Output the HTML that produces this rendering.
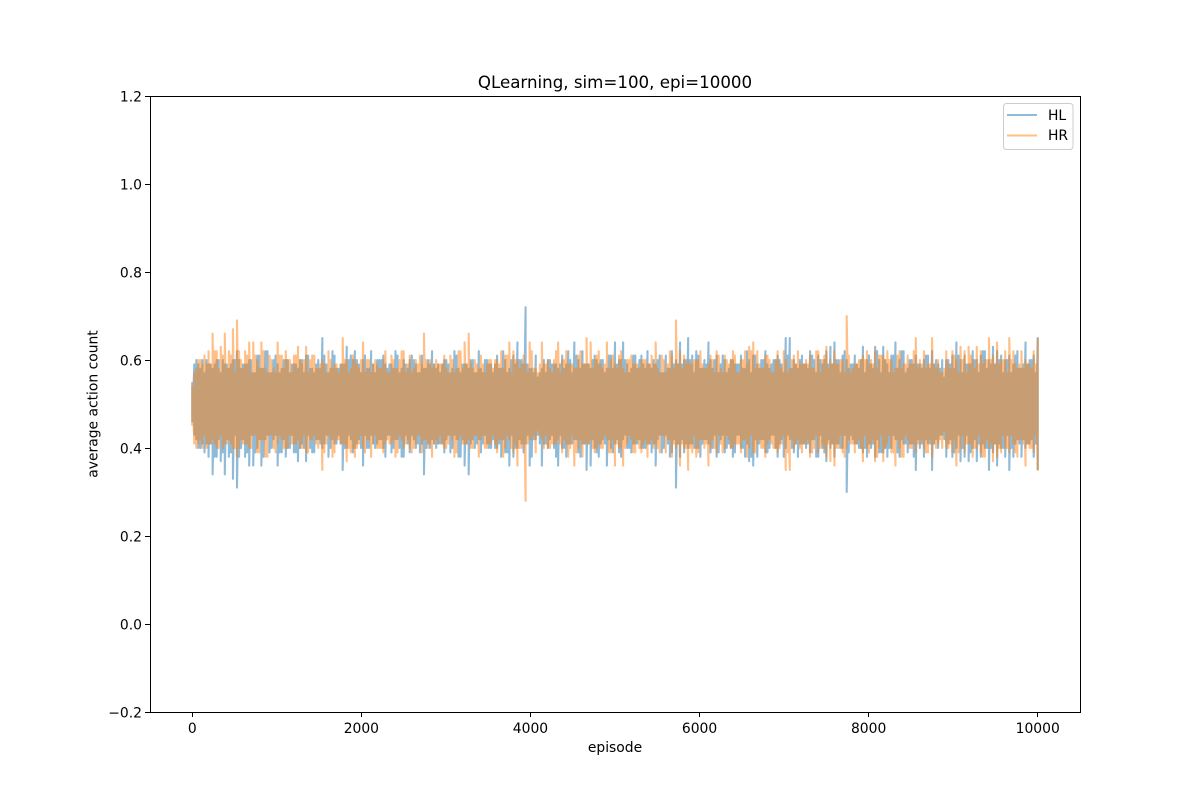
<!DOCTYPE html>
<html>
<head>
<meta charset="utf-8">
<title>QLearning, sim=100, epi=10000</title>
<style>
html,body{margin:0;padding:0;background:#fff;width:1200px;height:800px;overflow:hidden}
svg{display:block}
text{font-family:"DejaVu Sans",sans-serif;fill:#000;font-size:13.89px}
</style>
</head>
<body>
<svg id="chart" width="1200" height="800" viewBox="0 0 1200 800" xmlns="http://www.w3.org/2000/svg">
  <rect x="150" y="96" width="930" height="616" fill="#fff"/>
  <g id="series"></g>
  <g id="ticks"></g>
  <rect x="150.5" y="96.5" width="930" height="616" fill="none" stroke="#000" stroke-width="1"/>
  <text x="615" y="88" text-anchor="middle" style="font-size:16.67px">QLearning, sim=100, epi=10000</text>
  <text x="615" y="752" text-anchor="middle">episode</text>
  <text transform="translate(97.5,404) rotate(-90)" text-anchor="middle">average action count</text>
  <g>
    <rect x="1003.5" y="103.5" width="69.5" height="46" rx="3" ry="3" fill="#fff" fill-opacity="0.8" stroke="#ccc" stroke-width="1"/>
    <line x1="1007" y1="115" x2="1037" y2="115" stroke="#1f77b4" stroke-opacity="0.5" stroke-width="2.08"/>
    <text x="1048" y="120">HL</text>
    <line x1="1007" y1="135.5" x2="1037" y2="135.5" stroke="#ff7f0e" stroke-opacity="0.5" stroke-width="2.08"/>
    <text x="1048" y="140">HR</text>
  </g>
</svg>
<script>
const xTickValues = [0, 2000, 4000, 6000, 8000, 10000];
const yTickValues = [-0.2, 0.0, 0.2, 0.4, 0.6, 0.8, 1.0, 1.2];
const yTickLabels = ["\u22120.2", "0.0", "0.2", "0.4", "0.6", "0.8", "1.0", "1.2"];
const lastEpisode = 10000;
const HLPeaks = [
.55,.46,.60,.42,.58,.40,.57,.39,.59,.38,.58,.34,.60,.38,.57,.37,.59,.34,.58,.38,
.60,.33,.62,.31,.58,.40,.59,.38,.60,.36,.57,.36,.61,.40,.58,.36,.62,.42,.57,.39,
.60,.42,.59,.36,.58,.39,.60,.38,.57,.40,.59,.39,.58,.37,.60,.41,.61,.37,.58,.40,
.57,.39,.60,.42,.65,.40,.59,.43,.58,.40,.61,.41,.58,.43,.59,.35,.63,.40,.61,.42,
.62,.40,.59,.42,.60,.36,.58,.40,.62,.43,.57,.40,.60,.42,.61,.40,.58,.43,.59,.39,
.62,.42,.57,.40,.60,.38,.58,.41,.61,.43,.59,.40,.57,.39,.58,.34,.60,.41,.62,.42,
.58,.40,.57,.41,.60,.39,.59,.43,.58,.40,.61,.42,.57,.38,.59,.36,.58,.34,.60,.42,
.57,.41,.58,.39,.60,.43,.59,.40,.57,.42,.61,.40,.58,.38,.60,.39,.58,.36,.61,.38,
.64,.40,.60,.41,.72,.41,.58,.36,.57,.42,.56,.43,.58,.36,.57,.41,.60,.42,.59,.40,
.58,.36,.61,.40,.59,.38,.60,.41,.64,.42,.60,.39,.62,.41,.59,.35,.58,.36,.61,.40,
.59,.38,.60,.42,.58,.36,.61,.40,.64,.41,.60,.39,.64,.42,.59,.40,.58,.39,.61,.41,
.60,.42,.59,.40,.62,.41,.58,.39,.59,.36,.61,.43,.57,.40,.58,.41,.62,.39,.60,.31,
.64,.38,.60,.39,.65,.40,.61,.41,.62,.40,.58,.38,.60,.42,.64,.41,.58,.40,.61,.38,
.59,.42,.60,.39,.58,.41,.60,.38,.59,.43,.61,.40,.58,.38,.60,.37,.61,.36,.59,.38,
.60,.42,.62,.39,.58,.40,.60,.43,.61,.38,.59,.42,.65,.40,.65,.42,.60,.39,.58,.38,
.61,.41,.59,.40,.62,.39,.60,.42,.61,.38,.59,.40,.62,.37,.63,.40,.64,.38,.60,.41,
.61,.40,.60,.30,.59,.43,.61,.41,.58,.40,.63,.39,.60,.38,.59,.40,.63,.38,.60,.39,
.63,.39,.59,.38,.61,.40,.64,.42,.60,.38,.62,.41,.58,.39,.60,.41,.61,.35,.59,.40,
.60,.38,.61,.41,.62,.35,.60,.42,.58,.43,.56,.42,.60,.41,.61,.38,.64,.40,.60,.37,
.61,.38,.59,.37,.62,.40,.60,.37,.61,.38,.62,.40,.60,.35,.63,.39,.62,.36,.61,.40,
.60,.38,.61,.35,.59,.38,.62,.42,.58,.38,.64,.40,.60,.41,.61,.38,.65,.35
];
const HRPeaks = [
.45,.54,.40,.58,.42,.60,.43,.61,.41,.62,.42,.66,.40,.62,.43,.63,.41,.66,.42,.62,
.40,.67,.38,.69,.42,.60,.41,.62,.40,.64,.43,.64,.39,.60,.42,.64,.38,.58,.43,.61,
.40,.58,.41,.64,.42,.61,.40,.62,.43,.60,.41,.61,.42,.63,.40,.59,.39,.63,.42,.60,
.43,.61,.40,.58,.35,.60,.41,.57,.42,.60,.39,.59,.42,.57,.41,.65,.37,.60,.39,.58,
.38,.60,.41,.58,.40,.64,.42,.60,.38,.57,.43,.60,.40,.58,.39,.60,.42,.57,.41,.61,
.38,.58,.43,.60,.40,.62,.42,.59,.39,.57,.41,.60,.43,.61,.42,.66,.40,.59,.38,.58,
.42,.60,.43,.59,.40,.61,.41,.57,.42,.60,.39,.58,.43,.62,.41,.64,.42,.66,.40,.58,
.43,.59,.42,.61,.40,.57,.41,.60,.43,.58,.39,.60,.42,.62,.40,.61,.42,.64,.39,.62,
.36,.60,.40,.59,.28,.59,.42,.64,.43,.58,.44,.57,.42,.64,.43,.59,.40,.58,.41,.60,
.42,.64,.39,.60,.41,.62,.40,.59,.36,.58,.40,.61,.38,.59,.41,.65,.42,.64,.39,.60,
.41,.62,.40,.58,.42,.64,.39,.60,.36,.59,.40,.61,.36,.58,.41,.60,.42,.61,.39,.59,
.40,.58,.41,.60,.38,.59,.42,.61,.41,.64,.39,.57,.43,.60,.42,.59,.38,.61,.40,.69,
.36,.62,.40,.61,.35,.60,.39,.59,.38,.60,.42,.62,.40,.58,.36,.59,.42,.60,.39,.62,
.41,.58,.40,.61,.42,.59,.40,.62,.41,.57,.39,.60,.42,.62,.40,.63,.39,.64,.41,.62,
.40,.58,.38,.61,.42,.60,.40,.57,.39,.62,.41,.58,.35,.60,.35,.58,.40,.61,.42,.62,
.39,.59,.41,.60,.38,.61,.40,.58,.39,.62,.41,.60,.38,.63,.37,.60,.36,.62,.40,.59,
.39,.60,.40,.70,.41,.57,.39,.59,.42,.60,.37,.61,.40,.62,.41,.60,.37,.62,.40,.61,
.37,.61,.41,.62,.39,.60,.36,.58,.40,.62,.38,.59,.42,.61,.40,.59,.39,.65,.41,.60,
.40,.62,.39,.59,.38,.65,.40,.58,.42,.57,.44,.58,.40,.59,.39,.62,.36,.60,.40,.63,
.39,.62,.41,.63,.38,.60,.40,.63,.39,.62,.38,.60,.40,.65,.37,.61,.38,.64,.39,.60,
.40,.62,.39,.65,.41,.62,.38,.58,.42,.62,.36,.60,.40,.59,.39,.62,.35,.65
];
const HLMids = [
.59,.43,.59,.40,.60,.41,.60,.41,.59,.41,.59,.38,.60,.42,.60,.39,.59,.42,.59,.39,
.60,.43,.60,.38,.59,.42,.59,.39,.60,.43,.57,.39,.61,.42,.58,.38,.62,.43,.57,.40,
.61,.43,.57,.39,.60,.42,.60,.40,.59,.43,.59,.39,.60,.40,.57,.40,.61,.43,.58,.39,
.59,.42,.58,.41,.61,.41,.57,.38,.62,.42,.58,.41,.59,.41,.59,.40,.60,.43,.60,.39,
.60,.41,.57,.40,.61,.43,.58,.40,.59,.41,.60,.41,.60,.42,.59,.38,.59,.43,.58,.40,
.61,.42,.58,.38,.59,.43,.60,.39,.60,.42,.57,.41,.61,.41,.58,.40,.59,.40,.59,.41,
.59,.41,.59,.41,.60,.42,.57,.39,.62,.43,.58,.38,.59,.42,.59,.41,.60,.41,.57,.40,
.62,.42,.57,.41,.60,.41,.59,.40,.59,.40,.58,.41,.62,.42,.57,.39,.60,.43,.59,.40,
.60,.42,.59,.39,.59,.43,.58,.38,.61,.42,.57,.41,.60,.41,.60,.40,.59,.43,.59,.38,
.59,.43,.58,.40,.62,.41,.57,.41,.61,.42,.58,.38,.59,.41,.59,.41,.60,.42,.60,.39,
.60,.41,.57,.41,.61,.42,.58,.39,.59,.42,.60,.38,.60,.43,.57,.40,.61,.41,.58,.41,
.61,.40,.58,.40,.59,.41,.60,.41,.60,.42,.57,.39,.61,.43,.58,.38,.59,.42,.59,.41,
.59,.42,.60,.41,.60,.41,.57,.40,.61,.40,.58,.41,.59,.42,.60,.39,.60,.43,.57,.39,
.61,.43,.57,.40,.60,.40,.59,.39,.59,.43,.58,.40,.62,.41,.57,.38,.61,.42,.58,.41,
.60,.42,.59,.39,.59,.43,.60,.40,.60,.41,.57,.38,.61,.43,.58,.40,.59,.41,.60,.41,
.59,.41,.58,.41,.61,.42,.57,.38,.60,.43,.60,.39,.59,.42,.59,.41,.60,.41,.57,.40,
.62,.43,.58,.39,.59,.42,.59,.41,.60,.40,.57,.40,.61,.41,.58,.41,.62,.42,.57,.39,
.60,.40,.57,.40,.61,.43,.58,.39,.62,.42,.57,.41,.60,.41,.59,.38,.59,.42,.58,.41,
.61,.42,.58,.41,.59,.41,.59,.40,.60,.43,.60,.38,.59,.42,.58,.39,.61,.43,.57,.40,
.59,.43,.59,.39,.60,.42,.57,.41,.62,.41,.58,.40,.59,.40,.59,.41,.60,.41,.57,.40,
.60,.43,.57,.40,.61,.41,.58,.41,.59,.42,.59,.41,.60,.42,.57,.41
];
const HRMids = [
.41,.57,.41,.60,.40,.59,.40,.59,.41,.59,.41,.62,.40,.58,.40,.61,.41,.58,.41,.61,
.40,.57,.40,.62,.41,.58,.41,.61,.40,.57,.43,.61,.39,.58,.42,.62,.38,.57,.43,.60,
.39,.57,.43,.61,.40,.58,.40,.60,.41,.57,.41,.61,.40,.60,.43,.60,.39,.57,.42,.61,
.41,.58,.42,.59,.39,.59,.43,.62,.38,.58,.42,.59,.41,.59,.41,.60,.40,.57,.40,.61,
.40,.59,.43,.60,.39,.57,.42,.60,.41,.59,.40,.59,.40,.58,.41,.62,.41,.57,.42,.60,
.39,.58,.42,.62,.41,.57,.40,.61,.40,.58,.43,.59,.39,.59,.42,.60,.41,.60,.41,.59,
.41,.59,.41,.59,.40,.58,.43,.61,.38,.57,.42,.62,.41,.58,.41,.59,.40,.59,.43,.60,
.38,.58,.43,.59,.40,.59,.41,.60,.41,.60,.42,.59,.38,.58,.43,.61,.40,.57,.41,.60,
.40,.58,.41,.61,.41,.57,.42,.62,.39,.58,.43,.59,.40,.59,.40,.60,.41,.57,.41,.62,
.41,.57,.42,.60,.38,.59,.43,.59,.39,.58,.42,.62,.41,.59,.41,.59,.40,.58,.40,.61,
.40,.59,.43,.59,.39,.58,.42,.61,.41,.58,.40,.62,.40,.57,.43,.60,.39,.59,.42,.59,
.39,.60,.42,.60,.41,.59,.40,.59,.40,.58,.43,.61,.39,.57,.42,.62,.41,.58,.41,.59,
.41,.58,.40,.59,.40,.59,.43,.60,.39,.60,.42,.59,.41,.58,.40,.61,.40,.57,.43,.61,
.39,.57,.43,.60,.40,.60,.41,.61,.41,.57,.42,.60,.38,.59,.43,.62,.39,.58,.42,.59,
.40,.58,.41,.61,.41,.57,.40,.60,.40,.59,.43,.62,.39,.57,.42,.60,.41,.59,.40,.59,
.41,.59,.42,.59,.39,.58,.43,.62,.40,.57,.40,.61,.41,.58,.41,.59,.40,.59,.43,.60,
.38,.57,.42,.61,.41,.58,.41,.59,.40,.60,.43,.60,.39,.59,.42,.59,.38,.58,.43,.61,
.40,.60,.43,.60,.39,.57,.42,.61,.38,.58,.43,.59,.40,.59,.41,.62,.41,.58,.42,.59,
.39,.58,.42,.59,.41,.59,.41,.60,.40,.57,.40,.62,.41,.58,.42,.61,.39,.57,.43,.60,
.41,.57,.41,.61,.40,.58,.43,.59,.38,.59,.42,.60,.41,.60,.41,.59,.40,.59,.43,.60,
.40,.57,.43,.60,.39,.59,.42,.59,.41,.58,.41,.59,.40,.58,.43,.59
];

const svgNS = "http://www.w3.org/2000/svg";
const plot = { left: 150, right: 1080, top: 96, bottom: 712 };
const xDomain = [-500, 10500];
const yDomain = [-0.2, 1.2];
function xScale(v) {
  return plot.left + (v - xDomain[0]) / (xDomain[1] - xDomain[0]) * (plot.right - plot.left);
}
function yScale(v) {
  return plot.bottom - (v - yDomain[0]) / (yDomain[1] - yDomain[0]) * (plot.bottom - plot.top);
}
/* Each pair in the arrays is the high and low of one episode bin; peak bins and mid bins alternate. */
function linePath(peaks, mids) {
  const bins = [];
  for (let i = 0; i < peaks.length; i += 2) {
    bins.push([peaks[i], peaks[i + 1]]);
    if (i < mids.length) {
      bins.push([mids[i], mids[i + 1]]);
    }
  }
  const last = bins.length - 1;
  let d = "";
  bins.forEach(function (bin, b) {
    const x = xScale(b / last * lastEpisode).toFixed(2);
    d += (b ? "L" : "M") + x + " " + yScale(bin[0]).toFixed(2);
    d += "L" + x + " " + yScale(bin[1]).toFixed(2);
  });
  return d;
}
const seriesGroup = document.getElementById("series");
const hlLine = document.createElementNS(svgNS, "path");


hlLine.setAttribute("d", linePath(HLPeaks, HLMids));
hlLine.setAttribute("fill", "none");
hlLine.setAttribute("stroke", "#1f77b4");
hlLine.setAttribute("stroke-opacity", "0.5");
hlLine.setAttribute("stroke-width", "2.08");
hlLine.setAttribute("stroke-linejoin", "round");
seriesGroup.appendChild(hlLine);
const hrLine = document.createElementNS(svgNS, "path");


hrLine.setAttribute("d", linePath(HRPeaks, HRMids));
hrLine.setAttribute("fill", "none");
hrLine.setAttribute("stroke", "#ff7f0e");
hrLine.setAttribute("stroke-opacity", "0.5");
hrLine.setAttribute("stroke-width", "2.08");
hrLine.setAttribute("stroke-linejoin", "round");
seriesGroup.appendChild(hrLine);

const tickGroup = document.getElementById("ticks");
xTickValues.forEach(function (v) {
  const x = xScale(v);
  const mark = document.createElementNS(svgNS, "line");
  
  
  mark.setAttribute("x1", Math.floor(x) + 0.5);
  mark.setAttribute("x2", Math.floor(x) + 0.5);
  mark.setAttribute("y1", plot.bottom);
  mark.setAttribute("y2", plot.bottom + 5);
  mark.setAttribute("stroke", "#000");
  mark.setAttribute("stroke-width", "1");
  tickGroup.appendChild(mark);
  const label = document.createElementNS(svgNS, "text");
  
  
  label.setAttribute("x", x);
  label.setAttribute("y", plot.bottom + 21);
  label.setAttribute("text-anchor", "middle");
  label.textContent = String(v);
  tickGroup.appendChild(label);
});
yTickValues.forEach(function (v, i) {
  const y = yScale(v);
  const mark = document.createElementNS(svgNS, "line");
  
  
  mark.setAttribute("x1", plot.left - 5);
  mark.setAttribute("x2", plot.left);
  mark.setAttribute("y1", Math.floor(y + 0.01) + 0.5);
  mark.setAttribute("y2", Math.floor(y + 0.01) + 0.5);
  mark.setAttribute("stroke", "#000");
  mark.setAttribute("stroke-width", "1");
  tickGroup.appendChild(mark);
  const label = document.createElementNS(svgNS, "text");
  
  
  label.setAttribute("x", plot.left - 8);
  label.setAttribute("y", y + 5.5);
  label.setAttribute("text-anchor", "end");
  label.textContent = yTickLabels[i];
  tickGroup.appendChild(label);
});
</script>
</body>
</html>
